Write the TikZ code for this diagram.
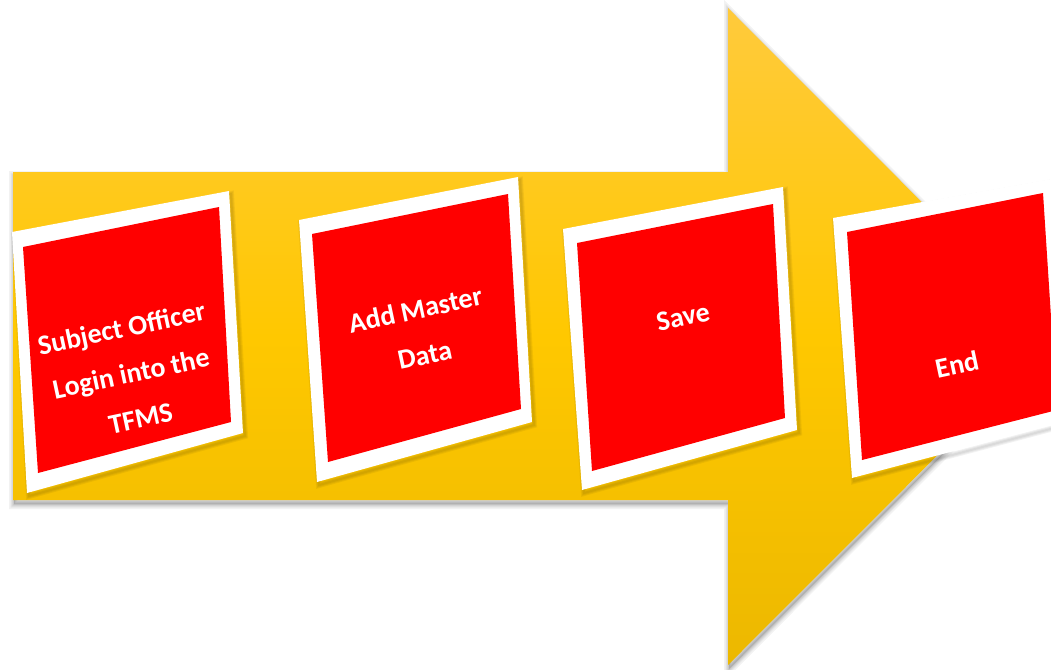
\documentclass[tikz,border=0pt]{standalone}
\usepackage{fontspec}
\setmainfont{Carlito}
\definecolor{arrowtop}{RGB}{255,202,60}
\definecolor{arrowmid}{RGB}{255,200,0}
\definecolor{arrowbot}{RGB}{236,184,0}
\definecolor{boxred}{RGB}{255,0,0}
\tikzset{
  arrowshape/.style={insert path={(13,172) -- (728,172) -- (728,8) -- (1056,336.5) -- (728,665) -- (728,500) -- (13,500) -- cycle}},
  lbl/.style={text=white, align=center, font=\bfseries\fontsize{28}{46}\selectfont, inner sep=0pt},
  softshadow/.style={draw=black, line join=miter, opacity=0.05}
}
\begin{document}
\begin{tikzpicture}[x=1pt,y=-1pt]
\path[use as bounding box] (0,0) rectangle (1051,669);
\clip (0,0) rectangle (1051,669);
% arrow shadow
\foreach \w in {10,7,5,3,1.5} {
  \draw[softshadow, line width=\w pt, shift={(1,4)}, arrowshape];
}
\fill[shift={(1,4)}, black, opacity=0.12, arrowshape];
% arrow body
\shade[top color=arrowtop, bottom color=arrowbot, middle color=arrowmid, arrowshape];
% box shadows
\foreach \a/\b/\c/\d in {
  {(12,232)}/{(229,191)}/{(243,433)}/{(27,493)},
  {(299,220)}/{(518,177)}/{(532,422)}/{(317,482)},
  {(563,229)}/{(783,187)}/{(797,430)}/{(582,490)},
  {(833,218)}/{(1057,178)}/{(1071,420)}/{(852,478)}} {
  \foreach \w in {6,4,2} {
    \draw[softshadow, line width=\w pt, shift={(2,3)}] \a -- \b -- \c -- \d -- cycle;
  }
}
% box 1
\fill[white] (12,232) -- (229,191) -- (243,433) -- (27,493) -- cycle;
\fill[boxred] (23,247) -- (219,207) -- (231,422) -- (38,473) -- cycle;
% box 2
\fill[white] (299,220) -- (518,177) -- (532,422) -- (317,482) -- cycle;
\fill[boxred] (312,234) -- (508,194) -- (521,409) -- (328,462) -- cycle;
% box 3
\fill[white] (563,229) -- (783,187) -- (797,430) -- (582,490) -- cycle;
\fill[boxred] (577,243) -- (773,204) -- (785,418) -- (592,471) -- cycle;
% box 4
\fill[white] (833,218) -- (1057,178) -- (1071,420) -- (852,478) -- cycle;
\fill[boxred] (847,232) -- (1043,193) -- (1057,410) -- (862,460) -- cycle;
% labels
\node[lbl, rotate=12] (t1) at (131,373) {Subject Officer\\Login into the\\TFMS};
\node[lbl, rotate=12] (t2) at (420,332) {Add Master\\Data};
\node[lbl, rotate=12] (t3) at (683,317) {Save};
\node[lbl, rotate=12] (t4) at (957,364) {End};
\end{tikzpicture}
\end{document}
